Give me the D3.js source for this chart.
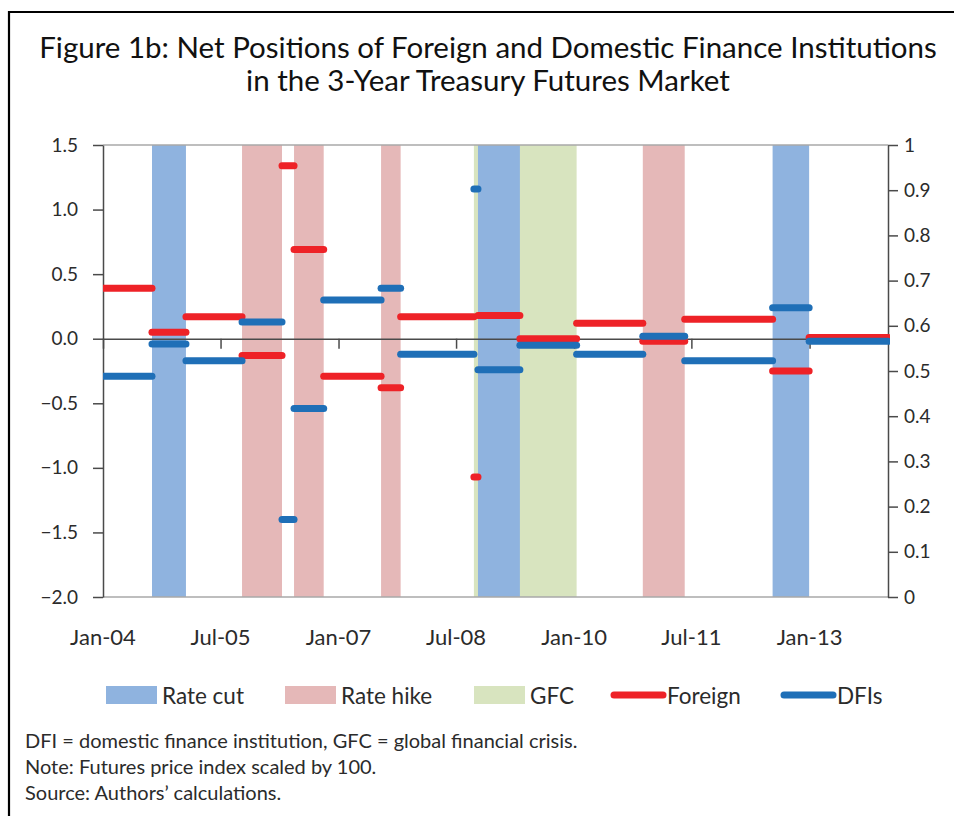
<!DOCTYPE html>
<html>
<head>
<meta charset="utf-8">
<script src="https://cdn.jsdelivr.net/npm/d3@7"></script>
<style>
  body { margin: 0; background: #fff; }
  svg { display: block; }
  text { font-family: Lato, "Open Sans", sans-serif; }
</style>
</head>
<body>
<svg id="chart" width="954" height="816"></svg>
<script>
// Regime boundaries: each pair of consecutive dates is one period
const periodBreaks = [
  "2004-01-01", "2004-08-16", "2005-01-21", "2005-10-09", "2006-04-13",
  "2006-06-08", "2006-10-24", "2007-07-18", "2007-10-17", "2008-09-22",
  "2008-10-11", "2009-04-24", "2010-01-13", "2010-11-17", "2011-05-31",
  "2012-07-13", "2012-12-30", "2014-01-01"
];
// Average net position in each period (left axis)
const foreignValues = [0.39, 0.05, 0.17, -0.13, 1.34, 0.69, -0.29, -0.38, 0.17, -1.07, 0.18, 0.00, 0.12, -0.02, 0.15, -0.25, 0.01];
const dfiValues     = [-0.29, -0.04, -0.17, 0.13, -1.40, -0.54, 0.30, 0.39, -0.12, 1.16, -0.24, -0.05, -0.12, 0.02, -0.17, 0.24, -0.02];

// Shaded episodes
const gfcSpans      = [["2008-09-22", "2010-01-13"]];
const rateCutSpans  = [["2004-08-16", "2005-01-21"], ["2008-10-11", "2009-04-24"], ["2012-07-13", "2012-12-30"]];
const rateHikeSpans = [["2005-10-09", "2006-04-13"], ["2006-06-08", "2006-10-24"], ["2007-07-18", "2007-10-17"], ["2010-11-17", "2011-05-31"]];

// Axis ticks
const xTickDates  = ["2004-01-01", "2005-07-01", "2007-01-01", "2008-07-01", "2010-01-01", "2011-07-01", "2013-01-01"];
const xTickLabels = ["Jan-04", "Jul-05", "Jan-07", "Jul-08", "Jan-10", "Jul-11", "Jan-13"];
const leftTicks   = [1.5, 1.0, 0.5, 0.0, -0.5, -1.0, -1.5, -2.0];
const rightTicks  = [0, 0.1, 0.2, 0.3, 0.4, 0.5, 0.6, 0.7, 0.8, 0.9, 1];

const titleLines = [
  "Figure 1b: Net Positions of Foreign and Domestic Finance Institutions",
  "in the 3-Year Treasury Futures Market"
];
const notes = [
  "DFI = domestic finance institution, GFC = global financial crisis.",
  "Note: Futures price index scaled by 100.",
  "Source: Authors\u2019 calculations."
];

const colors = {
  cut: "#8fb3df", hike: "#e5b8b8", gfc: "#d8e4bf",
  foreign: "#ee2227", dfi: "#1f6fb7", text: "#2b2b2b"
};

const parse = d3.timeParse("%Y-%m-%d");
const svg = d3.select("#chart");

const plot = { left: 103, right: 888, top: 145, bottom: 597 };

const x = d3.scaleTime()
  .domain([parse("2004-01-01"), parse("2014-01-01")])
  .range([plot.left, plot.right]);
const y = d3.scaleLinear().domain([-2, 1.5]).range([plot.bottom, plot.top]);
const yR = d3.scaleLinear().domain([0, 1]).range([plot.bottom, plot.top]);

// Frame
svg.append("path")
  .attr("d", "M9,816V12H954")
  .attr("fill", "none").attr("stroke", "#000").attr("stroke-width", 2.2);

// Title
svg.append("g").selectAll("text").data(titleLines).join("text")
  .attr("x", 488).attr("y", (d, i) => 58 + i * 33)
  .attr("text-anchor", "middle")
  .attr("font-size", 29.5)
  .attr("fill", "#111")
  .text(d => d);

// Shaded bands
function bands(spans, color) {
  svg.append("g").selectAll("rect").data(spans).join("rect")
    .attr("x", d => x(parse(d[0])))
    .attr("width", d => x(parse(d[1])) - x(parse(d[0])))
    .attr("y", plot.top)
    .attr("height", plot.bottom - plot.top)
    .attr("fill", color);
}
bands(gfcSpans, colors.gfc);
bands(rateHikeSpans, colors.hike);
bands(rateCutSpans, colors.cut);

// Plot frame top and bottom
svg.append("line").attr("x1", plot.left).attr("x2", plot.right)
  .attr("y1", plot.top).attr("y2", plot.top).attr("stroke", "#a8a8a8").attr("stroke-width", 1.3);
svg.append("line").attr("x1", plot.left).attr("x2", plot.right)
  .attr("y1", plot.bottom).attr("y2", plot.bottom).attr("stroke", "#a8a8a8").attr("stroke-width", 1.3);

// Left axis
const fmtLeft = d3.format(".1f");
const gL = svg.append("g")
  .attr("transform", `translate(${plot.left},0)`)
  .call(d3.axisLeft(y).tickValues(leftTicks).tickSize(10).tickSizeOuter(0).tickPadding(15).tickFormat(fmtLeft));

// Right axis
const gR = svg.append("g")
  .attr("transform", `translate(${plot.right},0)`)
  .call(d3.axisRight(yR).tickValues(rightTicks).tickSize(10).tickSizeOuter(0).tickPadding(6)
    .tickFormat(d => (d === 0 || d === 1) ? String(d) : d3.format(".1f")(d)));

[gL, gR].forEach(g => {
  g.select(".domain").attr("stroke", "#4a4a4a").attr("stroke-width", 1.5);
  g.selectAll(".tick line").attr("stroke", "#4a4a4a").attr("stroke-width", 1.5);
  g.selectAll(".tick text").attr("font-size", 19).attr("fill", colors.text)
    .attr("font-family", "Lato, 'Open Sans', sans-serif");
});

// Zero line with date ticks hanging below it
const gX = svg.append("g")
  .attr("transform", `translate(0,${y(0)})`)
  .call(d3.axisBottom(x).tickValues(xTickDates.map(parse)).tickSize(10).tickSizeOuter(0).tickFormat(""));
gX.select(".domain").attr("stroke", "#4a4a4a").attr("stroke-width", 1.5);
gX.selectAll(".tick line").attr("stroke", "#4a4a4a").attr("stroke-width", 1.5);

// Date labels under the plot
svg.append("g").selectAll("text").data(xTickDates).join("text")
  .attr("x", d => x(parse(d)))
  .attr("y", 645)
  .attr("text-anchor", "middle")
  .attr("font-size", 22)
  .attr("fill", colors.text)
  .text((d, i) => xTickLabels[i]);

// Period-average segments
function segments(values, color) {
  const segs = values.map((v, i) => ({ x0: parse(periodBreaks[i]), x1: parse(periodBreaks[i + 1]), v }));
  svg.append("g")
    .attr("clip-path", "url(#plotClip)")
    .selectAll("line").data(segs).join("line")
    .attr("x1", d => x(d.x0)).attr("x2", d => x(d.x1))
    .attr("y1", d => y(d.v)).attr("y2", d => y(d.v))
    .attr("stroke", color).attr("stroke-width", 7).attr("stroke-linecap", "round");
}
svg.append("clipPath").attr("id", "plotClip").append("rect")
  .attr("x", plot.left).attr("y", 0).attr("width", plot.right - plot.left + 2).attr("height", 816);
segments(foreignValues, colors.foreign);
segments(dfiValues, colors.dfi);

// Legend
const legendItems = [
  { label: "Rate cut", type: "rect", color: colors.cut, x: 106 },
  { label: "Rate hike", type: "rect", color: colors.hike, x: 285 },
  { label: "GFC", type: "rect", color: colors.gfc, x: 474 },
  { label: "Foreign", type: "line", color: colors.foreign, x: 611 },
  { label: "DFIs", type: "line", color: colors.dfi, x: 781 }
];
const lg = svg.append("g").selectAll("g").data(legendItems).join("g")
  .attr("transform", d => `translate(${d.x},695)`);
lg.filter(d => d.type === "rect").append("rect")
  .attr("x", 0).attr("y", -9).attr("width", 51).attr("height", 18).attr("fill", d => d.color);
lg.filter(d => d.type === "line").append("line")
  .attr("x1", 3).attr("x2", 52).attr("y1", 0).attr("y2", 0)
  .attr("stroke", d => d.color).attr("stroke-width", 7).attr("stroke-linecap", "round");
lg.append("text")
  .attr("x", 56)
  .attr("y", 9)
  .attr("font-size", 22.5)
  .attr("fill", colors.text)
  .text(d => d.label);

// Notes
svg.append("g").selectAll("text").data(notes).join("text")
  .attr("x", 25).attr("y", (d, i) => 748 + i * 26)
  .attr("font-size", 20)
  .attr("fill", colors.text)
  .text(d => d);
</script>
</body>
</html>
